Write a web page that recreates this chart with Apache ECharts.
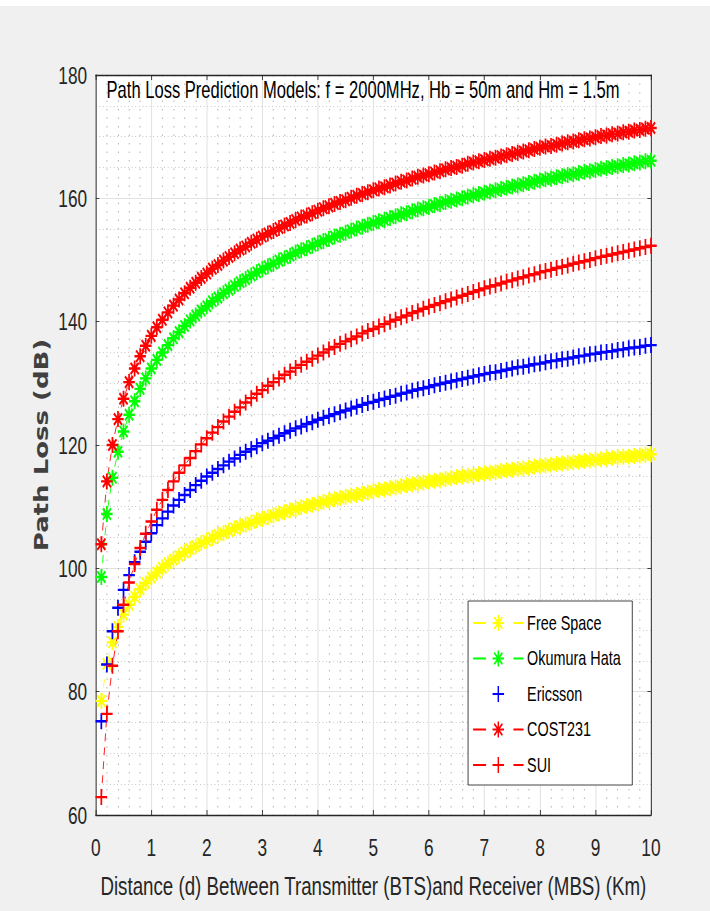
<!DOCTYPE html>
<html>
<head>
<meta charset="utf-8">
<script src="https://cdn.jsdelivr.net/npm/echarts@6/dist/echarts.min.js"></script>
<style>
html,body{margin:0;padding:0;width:710px;height:911px;overflow:hidden;background:#f0f0f0;}
#chart{position:absolute;left:0;top:0;width:986px;height:911px;transform:scaleX(0.7201);transform-origin:0 0;}
</style>
</head>
<body>
<div id="chart"></div>
<script>
const distance = [0.1,0.2,0.3,0.4,0.5,0.6,0.7,0.8,0.9,1.0,
1.1,1.2,1.3,1.4,1.5,1.6,1.7,1.8,1.9,2.0,
2.1,2.2,2.3,2.4,2.5,2.6,2.7,2.8,2.9,3.0,
3.1,3.2,3.3,3.4,3.5,3.6,3.7,3.8,3.9,4.0,
4.1,4.2,4.3,4.4,4.5,4.6,4.7,4.8,4.9,5.0,
5.1,5.2,5.3,5.4,5.5,5.6,5.7,5.8,5.9,6.0,
6.1,6.2,6.3,6.4,6.5,6.6,6.7,6.8,6.9,7.0,
7.1,7.2,7.3,7.4,7.5,7.6,7.7,7.8,7.9,8.0,
8.1,8.2,8.3,8.4,8.5,8.6,8.7,8.8,8.9,9.0,
9.1,9.2,9.3,9.4,9.5,9.6,9.7,9.8,9.9,10.0];

const freeSpace = [78.5,84.5,88.0,90.5,92.5,94.1,95.4,96.6,97.6,98.5,
99.3,100.1,100.8,101.4,102.0,102.6,103.1,103.6,104.1,104.5,
104.9,105.4,105.7,106.1,106.5,106.8,107.1,107.4,107.8,108.0,
108.3,108.6,108.9,109.1,109.4,109.6,109.9,110.1,110.3,110.5,
110.8,111.0,111.2,111.4,111.6,111.8,111.9,112.1,112.3,112.5,
112.7,112.8,113.0,113.1,113.3,113.5,113.6,113.8,113.9,114.1,
114.2,114.3,114.5,114.6,114.8,114.9,115.0,115.1,115.3,115.4,
115.5,115.6,115.8,115.9,116.0,116.1,116.2,116.3,116.5,116.6,
116.7,116.8,116.9,117.0,117.1,117.2,117.3,117.4,117.5,117.6,
117.7,117.8,117.9,118.0,118.1,118.1,118.2,118.3,118.4,118.5];

const okumuraHata = [98.6,108.8,114.7,118.9,122.2,124.9,127.1,129.1,130.8,132.4,
133.8,135.0,136.2,137.3,138.3,139.3,140.2,141.0,141.8,142.5,
143.3,143.9,144.6,145.2,145.8,146.4,146.9,147.5,148.0,148.5,
149.0,149.4,149.9,150.3,150.7,151.2,151.6,151.9,152.3,152.7,
153.1,153.4,153.8,154.1,154.4,154.8,155.1,155.4,155.7,156.0,
156.3,156.5,156.8,157.1,157.4,157.6,157.9,158.2,158.4,158.6,
158.9,159.1,159.4,159.6,159.8,160.0,160.3,160.5,160.7,160.9,
161.1,161.3,161.5,161.7,161.9,162.1,162.3,162.5,162.7,162.9,
163.1,163.2,163.4,163.6,163.8,163.9,164.1,164.3,164.4,164.6,
164.8,164.9,165.1,165.2,165.4,165.5,165.7,165.8,166.0,166.1];

const ericsson = [75.2,84.4,89.8,93.6,96.5,98.9,101.0,102.7,104.3,105.7,
107.0,108.1,109.2,110.2,111.1,111.9,112.7,113.5,114.2,114.9,
115.5,116.1,116.7,117.3,117.8,118.4,118.9,119.3,119.8,120.3,
120.7,121.1,121.5,121.9,122.3,122.7,123.0,123.4,123.7,124.1,
124.4,124.7,125.0,125.3,125.6,125.9,126.2,126.5,126.8,127.0,
127.3,127.5,127.8,128.0,128.3,128.5,128.8,129.0,129.2,129.4,
129.7,129.9,130.1,130.3,130.5,130.7,130.9,131.1,131.3,131.5,
131.7,131.8,132.0,132.2,132.4,132.6,132.7,132.9,133.1,133.2,
133.4,133.6,133.7,133.9,134.0,134.2,134.4,134.5,134.7,134.8,
135.0,135.1,135.2,135.4,135.5,135.7,135.8,135.9,136.1,136.2];

const cost231 = [103.9,114.1,120.0,124.2,127.5,130.2,132.4,134.4,136.1,137.7,
139.1,140.3,141.5,142.6,143.6,144.6,145.5,146.3,147.1,147.8,
148.6,149.2,149.9,150.5,151.1,151.7,152.2,152.8,153.3,153.8,
154.3,154.7,155.2,155.6,156.0,156.5,156.9,157.2,157.6,158.0,
158.4,158.7,159.1,159.4,159.7,160.1,160.4,160.7,161.0,161.3,
161.6,161.8,162.1,162.4,162.7,162.9,163.2,163.5,163.7,163.9,
164.2,164.4,164.7,164.9,165.1,165.3,165.6,165.8,166.0,166.2,
166.4,166.6,166.8,167.0,167.2,167.4,167.6,167.8,168.0,168.2,
168.4,168.5,168.7,168.9,169.1,169.2,169.4,169.6,169.7,169.9,
170.1,170.2,170.4,170.5,170.7,170.8,171.0,171.1,171.3,171.4];

const sui = [62.9,76.4,84.2,89.8,94.1,97.7,100.7,103.3,105.6,107.6,
109.5,111.1,112.7,114.1,115.5,116.7,117.9,119.0,120.1,121.1,
122.0,122.9,123.8,124.6,125.4,126.1,126.9,127.6,128.3,128.9,
129.6,130.2,130.8,131.4,131.9,132.5,133.0,133.5,134.0,134.5,
135.0,135.5,135.9,136.4,136.8,137.2,137.6,138.1,138.5,138.8,
139.2,139.6,140.0,140.3,140.7,141.0,141.4,141.7,142.1,142.4,
142.7,143.0,143.3,143.6,143.9,144.2,144.5,144.8,145.1,145.4,
145.7,145.9,146.2,146.5,146.7,147.0,147.2,147.5,147.7,148.0,
148.2,148.4,148.7,148.9,149.1,149.4,149.6,149.8,150.0,150.3,
150.5,150.7,150.9,151.1,151.3,151.5,151.7,151.9,152.1,152.3];

const xTicks = [0,1,2,3,4,5,6,7,8,9,10];
const yTicks = [60,80,100,120,140,160,180];
const seriesNames = ['Free Space','Okumura Hata','Ericsson','COST231','SUI'];
const titleText = 'Path Loss Prediction Models: f = 2000MHz, Hb = 50m and Hm = 1.5m';
const xName = 'Distance (d) Between Transmitter (BTS)and Receiver (MBS) (Km)';
const yName = 'Path Loss (dB)';

const STAR = 'path://M0,-10L0,10M-10,0L10,0M-7.1,-7.1L7.1,7.1M-7.1,7.1L7.1,-7.1';
const PLUS = 'path://M0,-10L0,10M-10,0L10,0';
const FONT = '"Liberation Sans", Arial, Helvetica, sans-serif';
const AX = '#262626';

const chart = echarts.init(document.getElementById('chart'), null, {renderer: 'svg'});

function mk(name, values, color, symbol, showLine) {
  return {
    type: 'line', name: name,
    data: distance.map((d, i) => [d, values[i]]),
    xAxisIndex: 0, yAxisIndex: 0,
    symbol: symbol, symbolSize: 16, showAllSymbol: true, clip: false,
    lineStyle: showLine ? {color: color, width: 1, type: [8, 6]} : {color: color, width: 0, opacity: 0},
    itemStyle: {color: color, borderColor: color, borderWidth: 2.4},
    emphasis: {disabled: true},
    animation: false
  };
}

const gridLeft = 133, gridRight = 82, gridTop = 75, gridBottom = 96;

const option = {
  backgroundColor: '#f0f0f0',
  animation: false,
  grid: {left: gridLeft, right: gridRight, top: gridTop, bottom: gridBottom, show: true, backgroundColor: '#ffffff', borderWidth: 0, containLabel: false},
  xAxis: [{
    type: 'value', position: 'bottom',
    min: xTicks[0], max: xTicks[xTicks.length - 1], interval: xTicks[1] - xTicks[0],
    name: xName, nameLocation: 'middle', nameGap: 58,
    nameTextStyle: {fontFamily: FONT, fontSize: 26, color: AX},
    axisLine: {show: true, onZero: false, lineStyle: {color: AX, width: 1.3}},
    axisTick: {show: true, inside: true, length: 5, lineStyle: {color: AX}},
    axisLabel: {fontFamily: FONT, fontSize: 24, color: AX, margin: 20},
    splitLine: {show: true, lineStyle: {color: '#dcdcdc', width: 1}},
    minorTick: {show: true, splitNumber: 5, length: 0, lineStyle: {width: 0}},
    minorSplitLine: {show: true, lineStyle: {color: '#a8a8a8', width: 1, type: [1.5, 7]}}
  }, {
    type: 'value', position: 'top',
    min: xTicks[0], max: xTicks[xTicks.length - 1], interval: xTicks[1] - xTicks[0],
    axisLine: {show: true, onZero: false, lineStyle: {color: AX, width: 1.3}},
    axisTick: {show: true, inside: true, length: 5, lineStyle: {color: AX}},
    axisLabel: {show: false}, splitLine: {show: false}
  }],
  yAxis: [{
    type: 'value', position: 'left',
    min: yTicks[0], max: yTicks[yTicks.length - 1], interval: yTicks[1] - yTicks[0],
    name: yName, nameLocation: 'middle', nameGap: 62,
    nameTextStyle: {fontFamily: '"DejaVu Sans", sans-serif', fontWeight: 'bold', fontSize: 26, color: '#404040'},
    axisLine: {show: true, onZero: false, lineStyle: {color: AX, width: 1.3}},
    axisTick: {show: true, inside: true, length: 5, lineStyle: {color: AX}},
    axisLabel: {fontFamily: FONT, fontSize: 24, color: AX, margin: 12},
    splitLine: {show: true, lineStyle: {color: '#dcdcdc', width: 1}},
    minorTick: {show: true, splitNumber: 4, length: 0, lineStyle: {width: 0}},
    minorSplitLine: {show: true, lineStyle: {color: '#a8a8a8', width: 1, type: [1, 4]}}
  }, {
    type: 'value', position: 'right',
    min: yTicks[0], max: yTicks[yTicks.length - 1], interval: yTicks[1] - yTicks[0],
    axisLine: {show: true, onZero: false, lineStyle: {color: AX, width: 1.3}},
    axisTick: {show: true, inside: true, length: 5, lineStyle: {color: AX}},
    axisLabel: {show: false}, splitLine: {show: false}
  }],
  legend: {
    orient: 'vertical', left: 650, top: 601,
    padding: [12, 16, 10, 6], itemGap: 15.5, itemWidth: 70, itemHeight: 20,
    backgroundColor: '#ffffff', borderColor: AX, borderWidth: 1, borderRadius: 0,
    textStyle: {fontFamily: FONT, fontSize: 20, color: '#000'},
    itemStyle: {borderWidth: 2},
    lineStyle: {type: [18, 38], width: 2},
    selectedMode: false,
    data: [
      {name: seriesNames[0]},
      {name: seriesNames[1]},
      {name: seriesNames[2], lineStyle: {opacity: 0, color: 'rgba(0,0,0,0)'}},
      {name: seriesNames[3]},
      {name: seriesNames[4]}
    ]
  },
  graphic: [
    {type: 'rect', shape: {x: 0, y: 0, width: 986, height: 6}, style: {fill: '#ffffff'}, silent: true},
    {type: 'text', x: 148, y: 90, z: 10, silent: true,
     style: {text: titleText, font: '23px "Liberation Sans", Arial, sans-serif', fill: '#000', textVerticalAlign: 'middle', textAlign: 'left'}}
  ],
  series: [
    mk(seriesNames[0], freeSpace, '#ffff00', STAR, true),
    mk(seriesNames[1], okumuraHata, '#00ff00', STAR, true),
    mk(seriesNames[2], ericsson, '#0000ff', PLUS, false),
    mk(seriesNames[3], cost231, '#ff0000', STAR, true),
    mk(seriesNames[4], sui, '#ff0000', PLUS, true)
  ]
};
chart.setOption(option);
</script>
</body>
</html>
